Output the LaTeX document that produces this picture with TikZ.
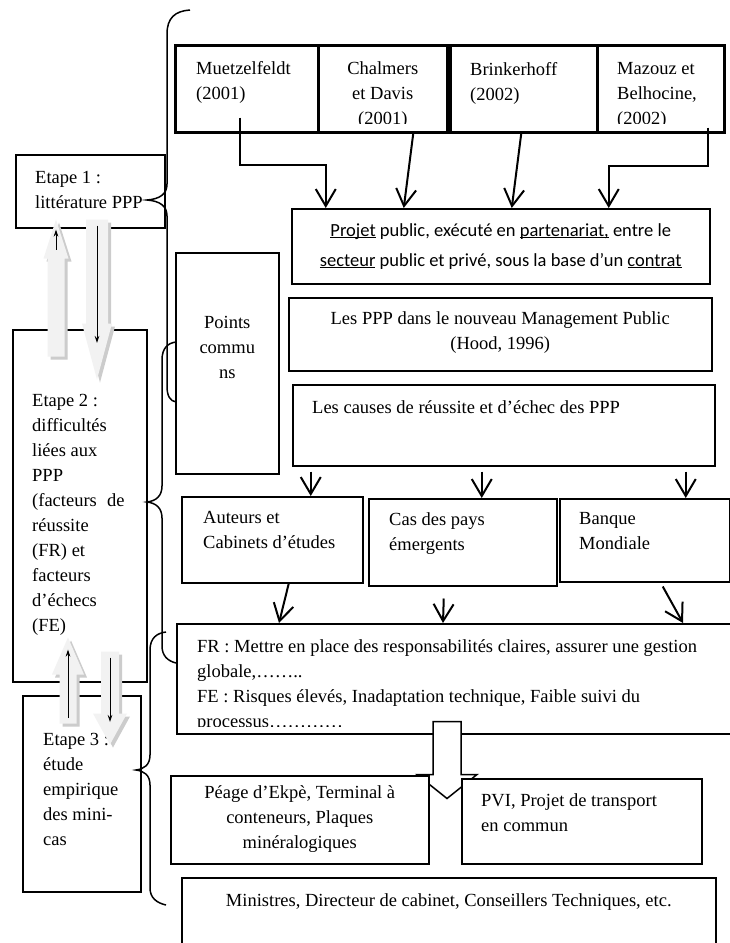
\documentclass[tikz,border=0pt]{standalone}
\usepackage{fontspec}
\setmainfont{Liberation Serif}
\newfontfamily\calibri{Carlito}
\usetikzlibrary{arrows.meta, positioning, calc, shadows}
\newcommand{\souligne}[1]{\underline{\smash{#1}}}
\tikzset{
  cadre/.style={draw, line width=1.5pt, fill=white, anchor=north west, inner sep=0pt},
  auteur/.style={cadre, line width=2.5pt},
  txt/.style={inner sep=0pt, align=left, anchor=north west, font=\fontsize{18.5}{25}\selectfont},
  txtc/.style={txt, align=center, anchor=north},
  conn/.style={line width=2pt, -{Straight Barb[length=17pt,width=20pt]}},
  accol/.style={line width=1.5pt},
  gblock/.style={fill=gray!10, drop shadow={shadow xshift=3pt, shadow yshift=-3pt, fill=gray!40, opacity=1}},
  thinarr/.style={line width=0.8pt, -{Stealth[length=7pt,width=4.5pt]}},
  bloc/.style={draw, line width=1.5pt, fill=white, line join=miter}
}

\begin{document}
\begin{tikzpicture}[x=1pt, y=-1pt]
    \useasboundingbox (0,0) rectangle (730,943);
    \clip (0,0) rectangle (730,943);

    % auteurs de la litterature
    \node[auteur, minimum width=143, minimum height=87] (muetzel) at (174,44) {};
    \node[auteur, minimum width=129, minimum height=87] (chalmers) at (317,44) {};
    \node[auteur, minimum width=147, minimum height=87] (brinker) at (449,44) {};
    \node[auteur, minimum width=127, minimum height=87] (mazouz) at (596,44) {};
    \begin{scope}
        \clip (muetzel.north west) rectangle ([yshift=10pt]mazouz.south east);
        \node[txt] at ([shift={(22pt,-17pt)}]muetzel.north west) {Muetzelfeldt\\(2001)};
        \node[txtc] at ([yshift=-17pt]chalmers.north) {Chalmers\\et Davis\\(2001)};
        \node[txt] at ([shift={(21pt,-18pt)}]brinker.north west) {Brinkerhoff\\(2002)};
        \node[txt] at ([shift={(21pt,-18pt)}]mazouz.north west) {Mazouz et\\Belhocine,\\(2002)};
    \end{scope}

    % etapes
    \node[cadre, minimum width=149, minimum height=73] (etape1) at (15,154) {};
    \node[txt] at ([shift={(20pt,-17pt)}]etape1.north west) {Etape 1 :\\littérature PPP};
    \node[cadre, minimum width=134, minimum height=352] (etape2) at (12,329) {};
    \node[txt] at ([shift={(20pt,-65pt)}]etape2.north west) {Etape 2 :\\difficultés\\liées aux\\PPP\\(facteurs\hspace{0.55em}de\\réussite\\(FR) et\\facteurs\\d’échecs\\(FE)};
    \node[cadre, minimum width=118, minimum height=196] (etape3) at (22,695) {};
    \node[txt] at ([shift={(21pt,-38pt)}]etape3.north west) {Etape 3 :\\étude\\empirique\\des mini-\\cas};

    % definition et causes
    \node[cadre, minimum width=418, minimum height=75] (projet) at (291,208) {};
    \node[inner sep=0pt, align=center, font=\calibri\fontsize{18.5}{30}\selectfont] at (projet.center)
        {\souligne{Projet} public, exécuté en \souligne{partenariat,} entre le\\
         \souligne{secteur} public et privé, sous la base d’un \souligne{contrat}};
    \node[cadre, minimum width=103, minimum height=221] (points) at (175,252) {};
    \node[txtc] at ([yshift=-64pt]points.north) {Points\\commu\\ns};
    \node[cadre, minimum width=423, minimum height=73] (ppp) at (288,297) {};
    \node[txtc] at ([yshift=-14pt]ppp.north) {Les PPP dans le nouveau Management Public\\(Hood, 1996)};
    \node[cadre, minimum width=422, minimum height=81] (causes) at (292,384) {};
    \node[txt] at ([shift={(20pt,-16pt)}]causes.north west) {Les causes de réussite et d’échec des PPP};

    \node[cadre, minimum width=181, minimum height=86] (auteurs) at (181,496) {};
    \node[txt] at ([shift={(22pt,-15pt)}]auteurs.north west) {Auteurs et\\Cabinets d’études};
    \node[cadre, minimum width=188, minimum height=87] (cas) at (368,498) {};
    \node[txt] at ([shift={(21pt,-14pt)}]cas.north west) {Cas des pays\\émergents};
    \node[cadre, minimum width=170, minimum height=83] (banque) at (559,498) {};
    \node[txt] at ([shift={(20pt,-14pt)}]banque.north west) {Banque\\Mondiale};

    % facteurs
    \node[cadre, minimum width=570, minimum height=110] (fr) at (176,623) {};
    \begin{scope}
        \clip (fr.north west) rectangle ([yshift=8pt]fr.south east);
        \node[txt] at ([shift={(21pt,-16pt)}]fr.north west) {FR : Mettre en place des responsabilités claires, assurer une gestion\\globale,……..\\FE : Risques élevés, Inadaptation technique, Faible suivi du\\processus…………};
    \end{scope}
    \draw[bloc] ($(fr.south west)+(257,-13)$) -- ++(28,0) -- ++(0,53) -- ++(16,0) -- ++(-30,24) -- ++(-30,-24) -- ++(16,0) -- cycle;

    % mini-cas
    \node[cadre, minimum width=258, minimum height=88] (peage) at (170,775) {};
    \node[txtc] at ([yshift=-10pt]peage.north) {Péage d’Ekpè, Terminal à\\conteneurs, Plaques\\minéralogiques};
    \node[cadre, minimum width=240, minimum height=85] (pvi) at (461,778) {};
    \node[txt] at ([shift={(20pt,-15pt)}]pvi.north west) {PVI, Projet de transport\\en commun};
    \node[cadre, minimum width=534, minimum height=90] (ministres) at (181,877) {};
    \node[txtc] at ([yshift=-16pt]ministres.north) {Ministres, Directeur de cabinet, Conseillers Techniques, etc.};

    % fleches
    \draw[conn] ([shift={(-6.5pt,16pt)}]muetzel.south) |- ([shift={(-175pt,43pt)}]projet.north) -- ([xshift=-175pt]projet.north);
    \draw[conn] ([xshift=30.5pt]chalmers.south) -- ([xshift=-97pt]projet.north);
    \draw[conn] ([xshift=-2.5pt]brinker.south) -- ([xshift=11pt]projet.north);
    \draw[conn] ([shift={(47.5pt,6pt)}]mazouz.south) |- ([shift={(108pt,42pt)}]projet.north) -- ([xshift=108pt]projet.north);

    \draw[conn] ([shift={(-193pt,-5pt)}]causes.south) -- ([xshift=38.5pt]auteurs.north);
    \draw[conn] ([shift={(-22pt,-5pt)}]causes.south) -- ([xshift=19pt]cas.north);
    \draw[conn] ([shift={(182pt,-5pt)}]causes.south) -- ([xshift=41pt]banque.north);

    \draw[conn] ([xshift=16.5pt]auteurs.south) -- ([xshift=103pt]fr.north west);
    \draw[conn] ([shift={(-19pt,-12pt)}]cas.south) -- ([xshift=267pt]fr.north west);
    \draw[conn] ([shift={(18pt,-4pt)}]banque.south) -- ([xshift=507pt]fr.north west);

    % fleches grises entre etapes
    \path[gblock] ($(etape1.south west)+(41,-9)$) -- ++(12.5,39) -- ++(-4,0) -- ++(0,98) -- ++(-17,0) -- ++(0,-98) -- ++(-4,0) -- cycle;
    \draw[thinarr] ($(etape1.south west)+(41,21)$) -- ($(etape1.south west)+(41,1)$);
    \path[gblock] ($(etape1.south west)+(71,-9)$) -- ++(22,0) -- ++(0,104) -- ++(4,0) -- ++(-15,56) -- ++(-15,-56) -- ++(4,0) -- cycle;
    \draw[thinarr] ($(etape1.south west)+(82,-3)$) -- ($(etape2.north west)+(85,14)$);

    \path[gblock] ($(etape2.south west)+(56,-45)$) -- ++(16,37) -- ++(-7.5,0) -- ++(0,49) -- ++(-17,0) -- ++(0,-49) -- ++(-7.5,0) -- cycle;
    \draw[thinarr] ($(etape3.north west)+(46,23)$) -- ($(etape2.south west)+(56,-33)$);
    \path[gblock] ($(etape2.south west)+(89,-31)$) -- ++(18,0) -- ++(0,62) -- ++(8,0) -- ++(-17,31) -- ++(-17,-31) -- ++(8,0) -- cycle;
    \draw[thinarr] ($(etape2.south west)+(98,-25)$) -- ($(etape3.north west)+(88,27)$);

    % accolades
    \draw[accol] (190,10) .. controls (175,11) and (167,18) .. (167,34) -- (167,184) .. controls (167,194) and (160,199) .. (147,200) .. controls (160,201) and (167,206) .. (167,216) -- (167,386) .. controls (167,396) and (170,401) .. (176,402);
    \draw[accol] (176,342) .. controls (168,343) and (162,348) .. (162,360) -- (162,486) .. controls (162,496) and (156,501) .. (147,502) .. controls (156,503) and (162,508) .. (162,518) -- (162,646) .. controls (162,656) and (168,661) .. (176,663);
    \draw[accol] (166,632) .. controls (157,633) and (150,638) .. (150,650) -- (150,755) .. controls (150,765) and (144,769) .. (136,770) .. controls (144,771) and (150,775) .. (150,785) -- (150,888) .. controls (150,898) and (157,903) .. (166,905);
\end{tikzpicture}
\end{document}
